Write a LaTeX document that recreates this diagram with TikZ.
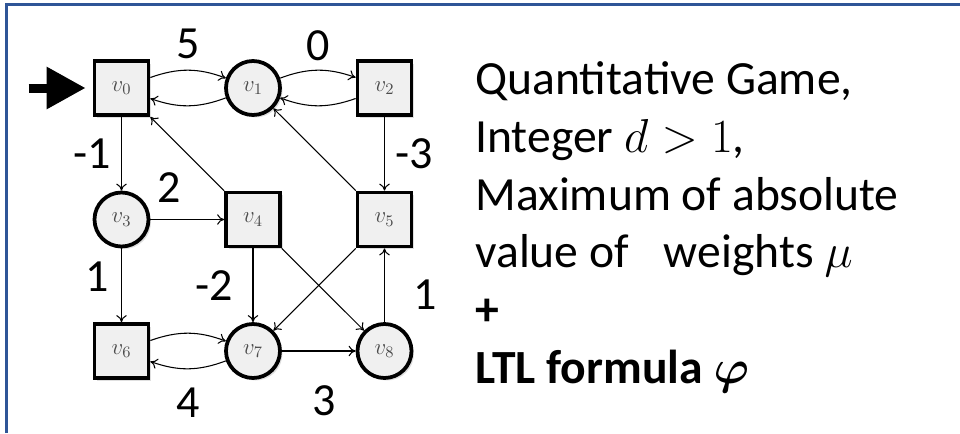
\RequirePackage{fix-cm}
\documentclass[tikz,border=0pt]{standalone}
\usepackage{amsmath}
\usepackage{fontspec}
\setmainfont{Carlito}
\usetikzlibrary{positioning,arrows.meta,shadows}
\definecolor{frameblue}{RGB}{47,85,151}
\newcommand{\GameGrid}{2.63}

\tikzset{
	gamenode/.style={draw=black, line width=0.075cm, fill=black!6, minimum size=1.08cm, inner sep=0pt, text=black!70, font=\fontsize{13}{15}\selectfont, drop shadow={shadow xshift=0.05cm, shadow yshift=-0.05cm, opacity=0.25}},
	box/.style={gamenode, rectangle},
	round/.style={gamenode, circle},
	move/.style={-{To[length=4pt,width=6pt]}, line width=0.6pt},
	weight/.style={font=\fontsize{26.2}{30}\selectfont, inner sep=0pt},
	spectext/.style={font=\fontsize{27.1}{32.8}\selectfont, align=left, inner sep=0pt},
}

\begin{document}
\begin{tikzpicture}[on grid]
		\useasboundingbox (0,0) rectangle (19.2,-8.66);
		\draw[frameblue, line width=0.06cm] (0.13,-8.66) -- (0.13,-0.09) -- (19.2,-0.09);

		\node[box] (v0) at (2.43,-1.76) {$v_0$};
		\node[round, right=\GameGrid cm of v0] (v1) {$v_1$};
		\node[box, right=\GameGrid cm of v1] (v2) {$v_2$};
		\node[round, below=\GameGrid cm of v0] (v3) {$v_3$};
		\node[box, right=\GameGrid cm of v3] (v4) {$v_4$};
		\node[box, right=\GameGrid cm of v4] (v5) {$v_5$};
		\node[box, below=\GameGrid cm of v3] (v6) {$v_6$};
		\node[round, right=\GameGrid cm of v6] (v7) {$v_7$};
		\node[round, right=\GameGrid cm of v7] (v8) {$v_8$};
		\coordinate[left=1.28cm of v0.west] (start);

		\draw[line width=0.18cm, -{Triangle[length=0.78cm,width=0.8cm]}, shorten >=0.14cm] (start) -- (v0.west);

		\draw[move] (v0) to[bend left=20] node[weight, above=0.22cm] {5} (v1);
		\draw[move] (v1) to[bend left=20] (v0);
		\draw[move] (v1) to[bend left=20] node[weight, above=0.18cm] {0} (v2);
		\draw[move] (v2) to[bend left=20] (v1);
		\draw[move] (v0) -- node[weight, left=0.21cm] {-1} (v3);
		\draw[move] (v3) -- node[weight, pos=0.25, above=0.32cm] {2} (v4);
		\draw[move] (v2) -- node[weight, right=0.2cm] {-3} (v5);
		\draw[move] (v3) -- node[weight, pos=0.38, left=0.24cm] {1} (v6);
		\draw[move] (v4) -- node[weight, left=0.4cm] {-2} (v7);
		\draw[move] (v8) -- node[weight, pos=0.37, right=0.56cm] {1} (v5);
		\draw[move] (v6) to[bend left=20] (v7);
		\draw[move] (v7) to[bend left=20] node[weight, below=0.38cm] {4} (v6);
		\draw[move] (v7) -- node[weight, pos=0.57, below=0.68cm] {3} (v8);
		\draw[move] (v4) -- (v0);
		\draw[move] (v5) -- (v1);
		\draw[move] (v4) -- (v8);
		\draw[move] (v5) -- (v7);

		\node[spectext, anchor=base west] (spec) at (9.5,-7.66) {Quantitative Game,\\Integer $d>1$,\\Maximum of absolute\\value of\hspace{0.7cm}weights $\mu$\\\textbf{+}\\\textbf{LTL formula $\boldsymbol{\varphi}$}};
\end{tikzpicture}
\end{document}
